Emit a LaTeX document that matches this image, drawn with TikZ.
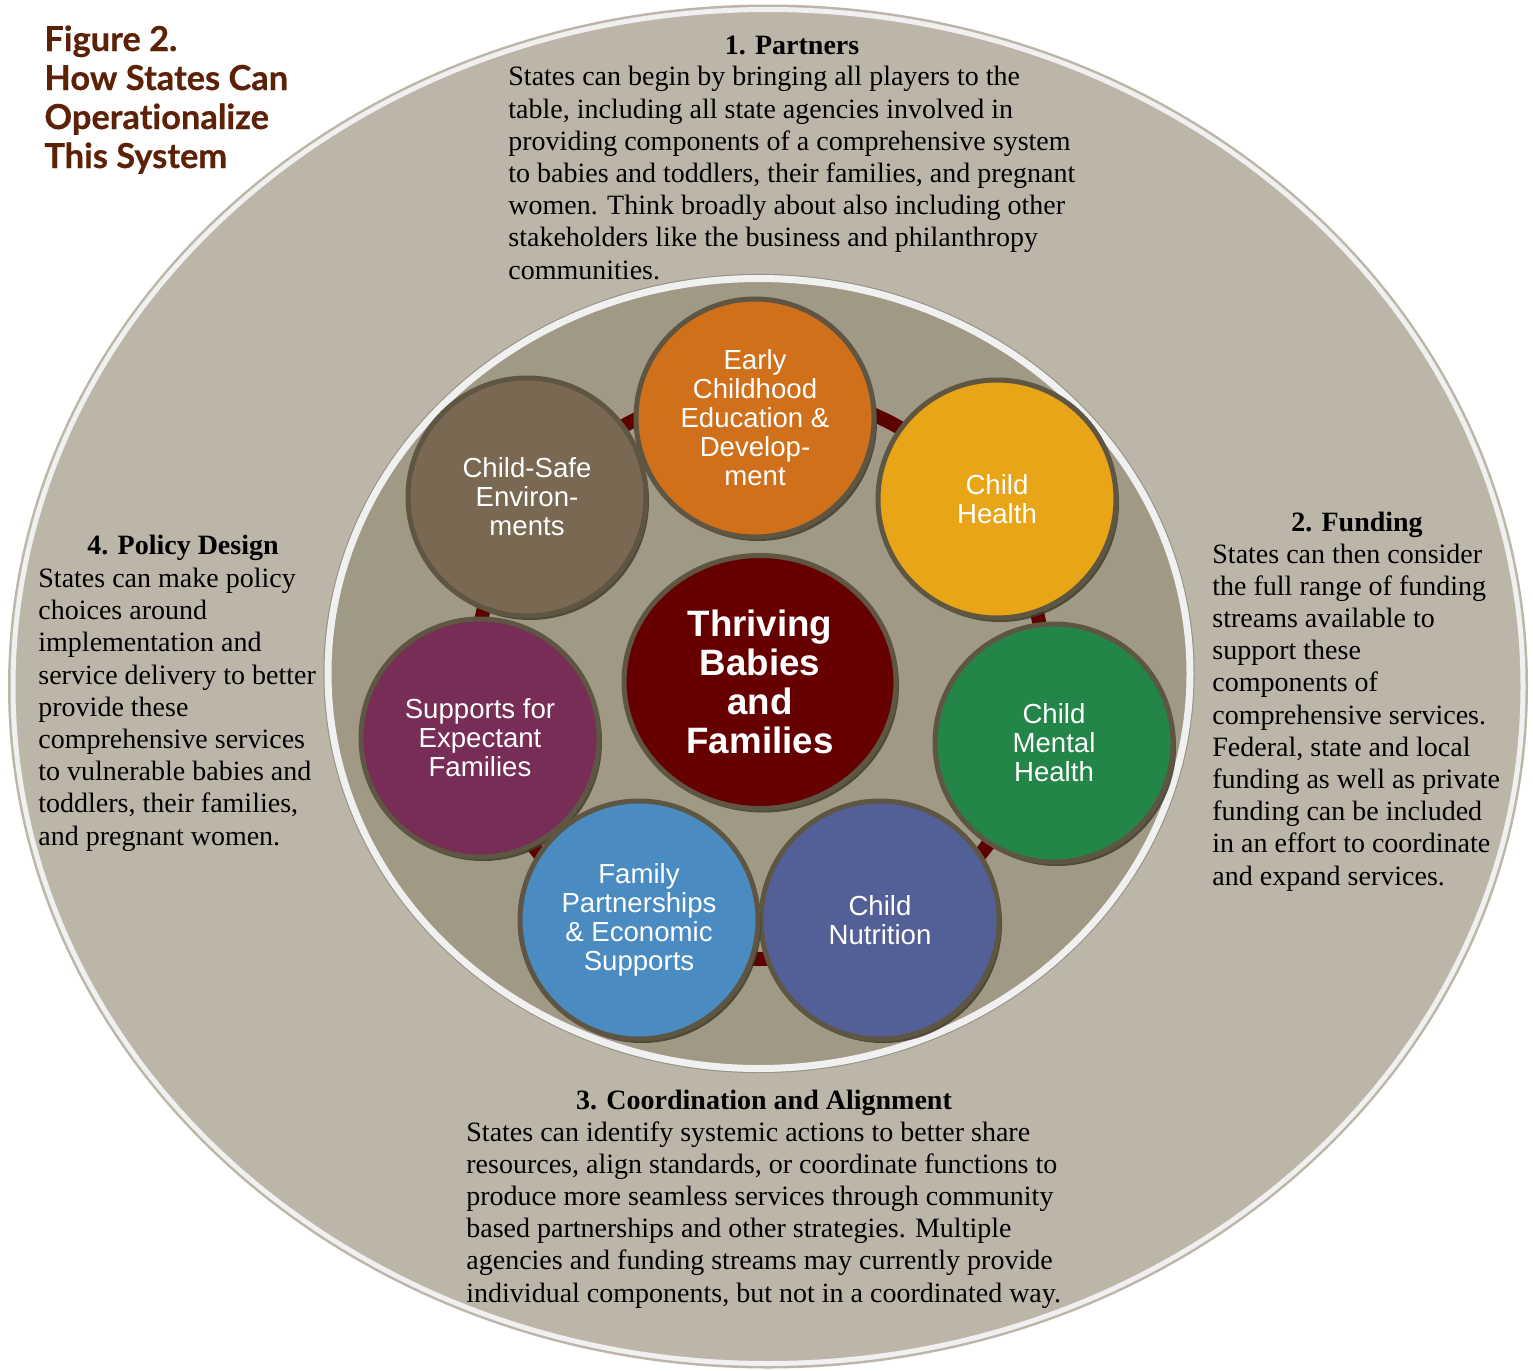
\documentclass[tikz,border=0pt]{standalone}
\usepackage{fontspec}
\setmainfont{Liberation Serif}
\newfontfamily\arialf{Liberation Sans}
\newfontfamily\titlef{Lato}[Ligatures=NoCommon, BoldFeatures={FakeBold=0.5}]
\usetikzlibrary{shadows,shapes.geometric}
\definecolor{outerc}{HTML}{BBB6A8}
\definecolor{innerc}{HTML}{9F9985}
\definecolor{bandc}{HTML}{F0F0F0}
\definecolor{rimc}{HTML}{5E5642}
\definecolor{ringc}{HTML}{5C0000}
\definecolor{titlec}{HTML}{5C2106}
\definecolor{orangec}{HTML}{D1701A}
\definecolor{brownc}{HTML}{796852}
\definecolor{goldc}{HTML}{E8A517}
\definecolor{plumc}{HTML}{772D56}
\definecolor{greenc}{HTML}{238548}
\definecolor{bluec}{HTML}{4A8BC2}
\definecolor{navyc}{HTML}{536097}
\definecolor{corec}{HTML}{660000}
\begin{document}
\begin{tikzpicture}[x=0.5pt,y=-0.5pt,
  disc/.style={circle, minimum size=119pt, inner sep=0pt, fill=#1, draw=rimc, line width=2.5pt,
    text=white, align=center, font=\arialf\fontsize{13.8}{14.5}\selectfont,
    drop shadow={shadow xshift=1.5pt, shadow yshift=-2pt, fill=rimc!70!black, opacity=.85}},
  head/.style={font=\bfseries\fontsize{14}{16.1}\selectfont, anchor=base, inner sep=0pt},
  body/.style={font=\fontsize{14}{16.1}\selectfont, anchor=base west, align=left, inner sep=0pt},
]
\useasboundingbox (0,0) rectangle (1533,1371);
% outer ellipse
\fill[outerc] (768,686.5) ellipse [x radius=380pt, y radius=341pt];
\draw[bandc, line width=2.5pt] (768,686.5) ellipse [x radius=377.5pt, y radius=338.5pt];
% inner ellipse
\draw[outerc!80!black, line width=0.6pt] (759,673.5) ellipse [x radius=217.5pt, y radius=199.5pt];
\fill[innerc] (759,673.5) ellipse [x radius=215.5pt, y radius=197.5pt];
\draw[bandc, line width=3.5pt] (759,673.5) ellipse [x radius=215.5pt, y radius=197.5pt];
% ring
\draw[ringc, line width=7pt] (760,675) circle [radius=142pt];
% centre
\node[ellipse, minimum width=136pt, minimum height=126.5pt, inner sep=0pt, fill=corec, draw=rimc, line width=2.5pt,
  text=white, align=center, font=\arialf\bfseries\fontsize{18.35}{19.4}\selectfont,
  drop shadow={shadow xshift=1.5pt, shadow yshift=-2pt, fill=rimc!70!black, opacity=.85}]
  (core) at (760,682) {Thriving\\Babies\\and\\Families};
% satellites
\node[disc=brownc] (safe) at (527,497) {Child-Safe\\Environ-\\ments};
\node[disc=orangec] (early) at (755,418) {Early\\Childhood\\Education \&\\Develop-\\ment};
\node[disc=goldc] (health) at (997,499) {Child\\Health};
\node[disc=plumc] (expect) at (480,738) {Supports for\\Expectant\\Families};
\node[disc=greenc] (mental) at (1054,743) {Child\\Mental\\Health};
\node[disc=navyc] (nutri) at (880,920) {Child\\Nutrition};
\node[disc=bluec] (family) at (639,920) {Family\\Partnerships\\\& Economic\\Supports};
% title (base = last line)
\node[anchor=base west, align=left, inner sep=0pt, text=titlec,
  font=\titlef\bfseries\fontsize{17.2}{19.5}\selectfont] (title) at (44,168)
  {Figure 2.\\How States Can\\Operationalize\\This System};
% 1
\node[head] (h1) at (792,54) {1. Partners};
\node[body] (b1) at (508,279) {States can begin by bringing all players to the\\
table, including all state agencies involved in\\
providing components of a comprehensive system\\
to babies and toddlers, their families, and pregnant\\
women. Think broadly about also including other\\
stakeholders like the business and philanthropy\\
communities.};
% 2
\node[head] (h2) at (1357,531) {2. Funding};
\node[body] (b2) at (1212,885) {States can then consider\\
the full range of funding\\
streams available to\\
support these\\
components of\\
comprehensive services.\\
Federal, state and local\\
funding as well as private\\
funding can be included\\
in an effort to coordinate\\
and expand services.};
% 3
\node[head] (h3) at (764,1109) {3. Coordination and Alignment};
\node[body] (b3) at (466,1302) {States can identify systemic actions to better share\\
resources, align standards, or coordinate functions to\\
produce more seamless services through community\\
based partnerships and other strategies. Multiple\\
agencies and funding streams may currently provide\\
individual components, but not in a coordinated way.};
% 4
\node[head] (h4) at (183,554) {4. Policy Design};
\node[body] (b4) at (38,845) {States can make policy\\
choices around\\
implementation and\\
service delivery to better\\
provide these\\
comprehensive services\\
to vulnerable babies and\\
toddlers, their families,\\
and pregnant women.};
\end{tikzpicture}
\end{document}
